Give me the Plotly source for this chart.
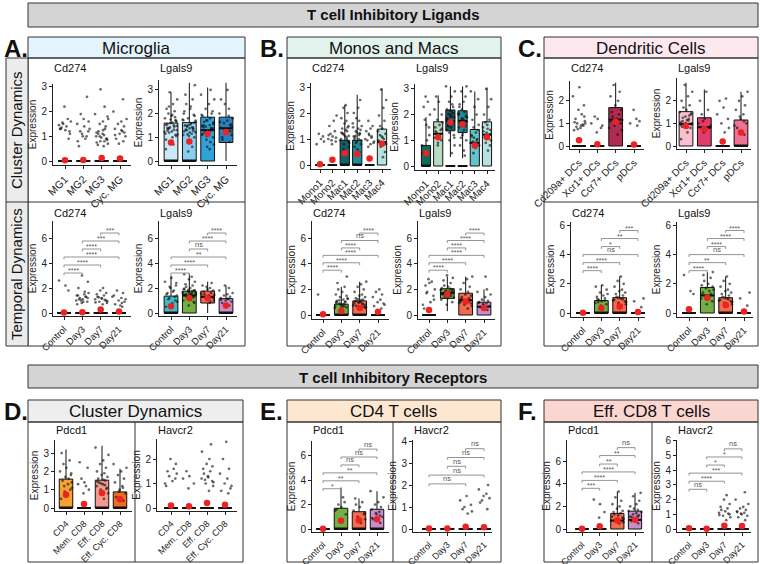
import plotly.graph_objects as go

W, H = 760, 564
FONT = "Liberation Sans, Arial, Helvetica, sans-serif"

# ---------------- categories ----------------
MG_CATS = ["MG1", "MG2", "MG3", "Cyc. MG"]
TIME_CATS = ["Control", "Day3", "Day7", "Day21"]
MM_CATS = ["Mono1", "Mono2", "Mac1", "Mac2", "Mac3", "Mac4"]
DC_CATS = ["Cd209a+ DCs", "Xcr1+ DCs", "Ccr7+ DCs", "pDCs"]
T_CATS = ["CD4", "Mem. CD8", "Eff. CD8", "Eff. Cyc. CD8"]

MG_COLORS = ["#cbe8f7", "#88cff0", "#31a1da", "#2a80c0"]
TIME_COLORS = ["#3dbec7", "#72b043", "#f26b4c", "#c98dc9"]
MM_COLORS = ["#0f6b5b", "#b5dcc2", "#14606a", "#1b8d97", "#63c5cb", "#b6e2e0"]
DC_COLORS = ["#f7c1d1", "#e23c6c", "#ad2c50", "#ef7194"]
T_COLORS = ["#f5a233", "#f7c6a0", "#f29a90", "#ef6b22"]

TIME_PAIRS = [(0, 1), (0, 2), (0, 3), (1, 2), (1, 3), (2, 3)]
TIME_PAIRS_5 = [(0, 2), (0, 3), (1, 2), (1, 3), (2, 3)]

# ---------------- A: Microglia ----------------
A_cd274_clu_q1 = [0, 0, 0, 0]
A_cd274_clu_med = [0, 0, 0, 0]
A_cd274_clu_q3 = [0, 0, 0, 0]
A_cd274_clu_lo = [0, 0, 0, 0]
A_cd274_clu_hi = [0, 0, 0, 0]
A_cd274_clu_mean = [0.03, 0.04, 0.12, 0.10]
A_cd274_clu_pts = [
    [1.3, 1.4, 1.2, 1.5, 1.6, 1.35, 1.7, 2.2, 1.1, 1.45, 1.25, 1.55, 0.9, 1.3],
    [1.0, 1.2, 1.5, 1.7, 1.9, 2.6, 0.6, 0.9, 1.3, 1.1, 1.6, 0.8, 1.4, 1.2, 1.0],
    [0.6, 0.7, 0.8, 0.9, 1.0, 1.1, 1.2, 1.3, 0.65, 0.85, 0.95, 1.05, 1.15, 1.4, 1.5, 1.6,
     1.7, 1.9, 2.2, 2.9, 0.75, 1.25, 0.9, 1.0, 1.8, 1.1, 0.8],
    [0.8, 0.9, 1.0, 1.1, 1.2, 1.3, 1.4, 1.5, 1.6, 1.7, 2.0, 2.5, 0.7, 1.05, 1.25, 1.15],
]

A_lgals9_clu_q1 = [0, 0, 0, 0.78]
A_lgals9_clu_med = [0, 0, 1.30, 1.38]
A_lgals9_clu_q3 = [1.60, 1.62, 1.85, 1.85]
A_lgals9_clu_lo = [0, 0, 0, 0]
A_lgals9_clu_hi = [2.9, 3.3, 3.1, 3.3]
A_lgals9_clu_mean = [0.78, 0.82, 1.15, 1.22]
A_lgals9_clu_pts = [
    [0.9, 1.0, 1.1, 1.2, 1.3, 1.4, 1.5, 1.6, 1.7, 1.8, 1.9, 2.0, 2.1, 2.2, 2.4, 2.6, 2.9, 1.05,
     1.15, 1.25, 1.35, 1.45, 1.55, 1.65, 1.75, 0.7, 0.5, 1.85, 2.3, 1.95, 1.12, 1.22, 1.32,
     1.42, 1.52, 1.62, 1.72, 1.38, 1.48, 1.28],
    [0.8, 1.0, 1.1, 1.2, 1.3, 1.4, 1.5, 1.6, 1.7, 1.8, 1.9, 2.0, 2.2, 2.4, 2.6, 2.8, 3.2, 1.05,
     1.15, 1.25, 1.35, 1.45, 1.55, 1.65, 1.75, 0.6, 0.4, 2.1, 2.3, 1.95, 1.12, 1.22, 1.32,
     1.42, 1.52, 1.62, 1.72, 1.38, 1.48, 1.28],
    [0.5, 0.7, 0.9, 1.0, 1.1, 1.2, 1.3, 1.4, 1.5, 1.6, 1.7, 1.8, 1.9, 2.0, 2.2, 2.4, 2.6, 2.8,
     3.0, 1.05, 1.15, 1.25, 1.35, 1.45, 1.55, 1.65, 0.8, 0.6, 2.1, 1.95, 1.12, 1.22, 1.32,
     1.42, 1.52, 1.62, 1.72, 1.38, 1.48, 1.28],
    [0.8, 1.0, 1.1, 1.2, 1.3, 1.4, 1.5, 1.6, 1.7, 1.8, 2.0, 2.2, 2.4, 2.6, 3.0, 1.25, 1.35,
     1.45, 0.9, 1.9, 1.15, 1.55, 1.65],
]

A_cd274_time_q1 = [0, 0, 0, 0]
A_cd274_time_med = [0, 0, 0, 0]
A_cd274_time_q3 = [0, 0, 0, 0]
A_cd274_time_lo = [0, 0, 0, 0]
A_cd274_time_hi = [0, 0, 0, 0]
A_cd274_time_mean = [0.05, 0.06, 0.28, 0.12]
A_cd274_time_pts = [
    [2.6, 2.2, 1.8],
    [0.8, 0.9, 1.0, 1.1, 1.2, 1.3, 1.4, 1.5, 1.6, 1.0, 1.2, 1.4, 0.9, 1.1, 1.3, 2.0, 2.5, 3.0, 1.7, 0.7],
    [0.7, 0.8, 0.9, 1.0, 1.1, 1.2, 1.3, 1.4, 1.5, 1.6, 1.8, 2.0, 0.85, 1.05, 1.25, 1.15, 0.95],
    [0.5, 0.7, 0.9, 1.0, 1.2, 1.4, 1.6, 1.8, 0.6, 1.1, 1.3, 0.8],
]
A_cd274_time_sig_y = [3.2, 3.84, 4.48, 5.12, 5.76, 6.4]
A_cd274_time_sig = ["****", "****", "****", "****", "***", "***"]

A_lgals9_time_q1 = [0, 0, 0.8, 0]
A_lgals9_time_med = [0, 1.4, 1.3, 0]
A_lgals9_time_q3 = [1.35, 1.75, 1.75, 1.15]
A_lgals9_time_lo = [0, 0, 0, 0]
A_lgals9_time_hi = [3.0, 3.2, 2.5, 2.2]
A_lgals9_time_mean = [0.55, 1.2, 1.18, 0.6]
A_lgals9_time_pts = [
    [0.5, 0.8, 1.0, 1.2, 1.4, 1.6, 1.8, 2.0, 2.2, 2.5, 2.8, 1.1, 1.3, 1.5, 1.7, 0.9, 2.1, 2.4],
    [0.6, 0.8, 1.0, 1.1, 1.2, 1.3, 1.4, 1.5, 1.6, 1.7, 1.8, 1.9, 2.0, 2.1, 2.2, 2.3, 2.5, 2.7,
     2.9, 3.1, 1.25, 1.35, 1.45, 1.55, 1.65, 1.75, 1.85, 1.95, 1.05, 0.9, 1.32, 1.42, 1.52,
     1.62, 1.72, 1.82, 1.48, 1.58],
    [0.8, 1.0, 1.1, 1.2, 1.3, 1.4, 1.5, 1.6, 1.7, 1.8, 1.9, 2.0, 2.2, 2.4, 1.25, 1.35, 1.45,
     1.55, 0.9, 2.1],
    [0.6, 0.8, 0.9, 1.0, 1.1, 1.2, 1.3, 1.4, 1.5, 1.6, 1.8, 2.0, 2.2, 1.05, 1.15],
]
A_lgals9_time_sig_y = [3.2, 3.84, 4.48, 5.12, 5.76, 6.4]
A_lgals9_time_sig = ["****", "****", "**", "ns", "****", "****"]

# ---------------- B: Monos and Macs ----------------
B_cd274_clu_q1 = [0, 0, 0, 0, 0, 0]
B_cd274_clu_med = [0, 0, 0, 0, 0, 0.88]
B_cd274_clu_q3 = [0, 0, 0.95, 0.95, 0, 1.38]
B_cd274_clu_lo = [0, 0, 0, 0, 0, 0]
B_cd274_clu_hi = [0, 0, 2.3, 2.7, 0, 2.95]
B_cd274_clu_mean = [0.03, 0.20, 0.45, 0.42, 0.25, 0.82]
B_cd274_clu_pts = [
    [0.8, 1.0, 1.1, 1.2, 0.9],
    [0.8, 0.9, 1.0, 1.1, 1.2, 1.3, 1.5, 1.7, 1.9, 0.95, 1.05, 1.15],
    [0.5, 0.7, 0.8, 0.9, 1.0, 1.1, 1.2, 1.3, 1.4, 1.5, 1.6, 1.7, 1.8, 2.0, 2.2, 2.3, 0.85,
     0.95, 1.05, 1.15, 1.25, 1.35, 1.45, 0.6, 1.12, 1.22, 0.98],
    [0.5, 0.7, 0.8, 0.9, 1.0, 1.1, 1.2, 1.3, 1.4, 1.5, 1.6, 1.7, 1.8, 2.0, 2.2, 2.5, 0.85,
     0.95, 1.05, 1.15, 1.25, 1.35, 1.45, 0.6, 1.12, 1.22, 0.98],
    [0.7, 0.8, 0.9, 1.0, 1.1, 1.2, 1.3, 1.4, 1.5, 1.7, 0.85, 0.95, 1.05, 1.15],
    [0.3, 0.5, 0.7, 0.8, 0.9, 1.0, 1.1, 1.2, 1.3, 1.4, 1.5, 1.7, 1.9, 2.2, 2.5, 2.9, 0.85,
     0.95, 1.05, 1.15],
]

B_lgals9_clu_q1 = [0, 0, 1.37, 1.30, 0, 0]
B_lgals9_clu_med = [0, 1.25, 1.75, 1.75, 0.90, 1.22]
B_lgals9_clu_q3 = [0.80, 1.72, 2.18, 2.15, 1.42, 1.72]
B_lgals9_clu_lo = [0, 0, 0.35, 0.30, 0, 0]
B_lgals9_clu_hi = [1.9, 2.75, 3.1, 3.1, 2.9, 3.05]
B_lgals9_clu_mean = [0.50, 1.12, 1.70, 1.62, 0.80, 1.12]
B_lgals9_clu_zero = [False, False, True, True, False, False]
B_lgals9_clu_pts = [
    [0.5, 1.0, 1.5, 1.8, 2.0, 2.3, 2.5, 2.7, 1.2, 0.8, 1.6],
    [0.8, 1.0, 1.1, 1.2, 1.3, 1.4, 1.5, 1.6, 1.7, 1.8, 2.0, 2.2, 2.5, 2.7, 1.25, 1.35, 1.45, 0.9],
    [0.5, 0.8, 1.0, 1.2, 1.4, 1.5, 1.6, 1.7, 1.8, 1.9, 2.0, 2.1, 2.2, 2.3, 2.5, 2.7, 2.9, 3.1,
     1.65, 1.75, 1.85, 1.95, 2.05, 1.3, 1.1, 1.55, 2.4, 2.15, 1.72, 1.82, 1.92, 2.02],
    [0.4, 0.8, 1.0, 1.2, 1.4, 1.5, 1.6, 1.7, 1.8, 1.9, 2.0, 2.1, 2.2, 2.3, 2.5, 2.7, 2.9, 3.1,
     1.65, 1.75, 1.85, 1.95, 2.05, 1.3, 1.1, 1.55, 2.4, 0.6, 1.72, 1.82, 1.92, 2.02],
    [0.5, 0.7, 0.8, 0.9, 1.0, 1.1, 1.2, 1.3, 1.4, 1.5, 1.6, 1.8, 2.0, 2.3, 2.6, 2.9, 0.85,
     0.95, 1.05, 1.15],
    [0.6, 0.8, 0.9, 1.0, 1.1, 1.2, 1.3, 1.4, 1.5, 1.6, 1.7, 1.8, 2.0, 2.3, 2.6, 3.0, 1.25,
     1.35, 1.45, 1.15],
]

B_cd274_time_q1 = [0, 0, 0, 0]
B_cd274_time_med = [0, 0, 0, 0]
B_cd274_time_q3 = [0, 0.85, 1.10, 0]
B_cd274_time_lo = [0, 0, 0, 0]
B_cd274_time_hi = [0, 2.2, 2.6, 0]
B_cd274_time_mean = [0.05, 0.32, 0.55, 0.25]
B_cd274_time_pts = [
    [1.6],
    [0.5, 0.6, 0.7, 0.8, 0.9, 1.0, 1.1, 1.2, 1.3, 1.4, 1.5, 1.6, 1.8, 2.0, 2.2, 2.5, 3.0, 0.75,
     0.85, 0.95, 1.05, 1.15, 0.65, 1.25, 0.55, 0.72, 0.88, 1.02],
    [0.5, 0.6, 0.7, 0.8, 0.9, 1.0, 1.1, 1.2, 1.3, 1.4, 1.5, 1.6, 1.8, 2.0, 2.2, 2.4, 2.6, 0.75,
     0.85, 0.95, 1.05, 1.15, 0.65, 1.25, 0.55, 0.72, 0.88, 1.02],
    [0.5, 0.7, 0.9, 1.0, 1.2, 1.4, 1.6, 1.8, 2.0, 0.8],
]
B_cd274_time_sig_y = [3.5, 4.08, 4.66, 5.24, 5.82, 6.4]
B_cd274_time_sig = ["****", "****", "****", "****", "ns", "****"]

B_lgals9_time_q1 = [0, 1.30, 0, 0]
B_lgals9_time_med = [0, 1.70, 1.15, 0.65]
B_lgals9_time_q3 = [0, 2.05, 1.70, 1.00]
B_lgals9_time_lo = [0, 0.3, 0, 0]
B_lgals9_time_hi = [0, 3.0, 3.0, 2.0]
B_lgals9_time_mean = [0.40, 1.62, 1.05, 0.55]
B_lgals9_time_pts = [
    [0.5, 1.0, 1.5, 1.8, 2.0, 2.3, 2.6, 2.8, 1.2, 0.8, 2.5, 1.7],
    [0.8, 1.0, 1.2, 1.3, 1.4, 1.5, 1.6, 1.7, 1.8, 1.9, 2.0, 2.1, 2.2, 2.3, 2.5, 2.7, 2.9, 3.1,
     1.55, 1.65, 1.75, 1.85, 1.45, 1.35, 1.95, 2.05, 1.62, 1.72, 1.82, 1.92, 1.52],
    [0.5, 0.7, 0.8, 0.9, 1.0, 1.1, 1.2, 1.3, 1.4, 1.5, 1.6, 1.8, 2.0, 2.2, 2.5, 2.8, 3.0, 0.95,
     1.05, 1.15, 1.25],
    [0.4, 0.6, 0.7, 0.8, 0.9, 1.0, 1.1, 1.2, 1.4, 1.6, 1.8, 2.0, 0.85, 0.95, 3.0],
]
B_lgals9_time_sig_y = [3.5, 4.08, 4.66, 5.24, 5.82, 6.4]
B_lgals9_time_sig = ["****", "****", "****", "****", "****", "****"]

# ---------------- C: Dendritic cells ----------------
C_cd274_clu_q1 = [0, 0, 0, 0]
C_cd274_clu_med = [0, 0, 1.17, 0]
C_cd274_clu_q3 = [0, 0, 1.70, 0]
C_cd274_clu_lo = [0, 0, 0, 0]
C_cd274_clu_hi = [0, 0, 2.8, 0]
C_cd274_clu_mean = [0.25, 0.08, 1.07, 0.07]
C_cd274_clu_pts = [
    [0.7, 0.8, 0.9, 1.0, 1.1, 1.2, 1.4, 1.6, 1.8, 2.2, 2.6, 0.85, 0.95, 1.05, 0.9, 1.0, 0.75, 1.3],
    [0.6, 0.9, 1.0, 1.2, 1.3, 0.8],
    [0.5, 0.7, 0.9, 1.0, 1.1, 1.2, 1.3, 1.4, 1.5, 1.6, 1.8, 2.0, 2.2, 2.4, 2.7, 1.05, 1.15, 0.8],
    [0.9, 1.0, 1.1, 1.6, 1.2],
]

C_lgals9_clu_q1 = [0, 0, 0, 0]
C_lgals9_clu_med = [0.98, 0.83, 0, 0]
C_lgals9_clu_q3 = [1.52, 1.25, 0, 1.15]
C_lgals9_clu_lo = [0, 0, 0, 0]
C_lgals9_clu_hi = [2.8, 2.5, 0, 2.4]
C_lgals9_clu_mean = [0.88, 0.75, 0.20, 0.60]
C_lgals9_clu_pts = [
    [0.3, 0.6, 0.8, 0.9, 1.0, 1.1, 1.2, 1.3, 1.4, 1.5, 1.6, 1.7, 1.8, 2.0, 2.2, 2.4, 2.7, 0.95,
     1.05, 1.15, 1.25, 1.35, 0.85, 1.45, 1.02, 1.12, 0.92],
    [0.6, 0.8, 1.0, 1.2, 1.4, 1.6, 2.0, 2.4, 0.9, 1.1],
    [0.6, 0.8, 1.0, 1.2, 1.4, 1.7, 2.0, 2.1],
    [0.5, 0.8, 1.0, 1.2, 1.4, 1.6, 1.8, 2.0, 2.2, 2.4, 0.9, 1.1, 1.3],
]

C_cd274_time_q1 = [0, 0, 0, 0]
C_cd274_time_med = [0, 0, 0, 0]
C_cd274_time_q3 = [0, 0.85, 1.05, 0]
C_cd274_time_lo = [0, 0, 0, 0]
C_cd274_time_hi = [0, 1.9, 2.5, 0]
C_cd274_time_mean = [0.02, 0.35, 0.45, 0.07]
C_cd274_time_pts = [
    [],
    [0.5, 0.6, 0.7, 0.8, 0.9, 1.0, 1.1, 1.2, 1.3, 1.4, 1.6, 1.8, 1.9, 0.75, 0.85, 0.95],
    [0.5, 0.6, 0.7, 0.8, 0.9, 1.0, 1.1, 1.2, 1.3, 1.4, 1.5, 1.6, 1.8, 2.0, 2.2, 2.5, 0.75,
     0.85, 0.95, 1.05],
    [0.4, 0.8, 1.0],
]
C_cd274_time_sig_y = [2.9, 3.45, 4.0, 4.55, 5.1, 5.65]
C_cd274_time_sig = ["****", "****", "ns", "*", "**", "***"]

C_lgals9_time_q1 = [0, 0, 0, 0]
C_lgals9_time_med = [0, 1.2, 0, 0]
C_lgals9_time_q3 = [0, 1.75, 1.05, 0]
C_lgals9_time_lo = [0, 0, 0, 0]
C_lgals9_time_hi = [0, 2.8, 2.5, 0]
C_lgals9_time_mean = [0.25, 1.05, 0.55, 0.10]
C_lgals9_time_pts = [
    [2.6, 1.5, 1.3],
    [0.6, 0.8, 1.0, 1.1, 1.2, 1.3, 1.4, 1.5, 1.6, 1.7, 1.8, 1.9, 2.0, 2.2, 2.4, 2.6, 2.8, 1.05,
     1.15, 1.25],
    [0.5, 0.6, 0.7, 0.8, 0.9, 1.0, 1.1, 1.2, 1.3, 1.4, 1.5, 1.6, 1.8, 2.0, 2.2, 2.5, 0.75,
     0.85, 0.95, 1.05],
    [0.5, 1.0, 1.4],
]
C_lgals9_time_sig_y = [2.9, 3.45, 4.0, 4.55, 5.1, 5.65]
C_lgals9_time_sig = ["****", "**", "ns", "****", "****", "****"]

# ---------------- D: T cell cluster dynamics ----------------
D_pdcd1_q1 = [0, 0, 0, 0]
D_pdcd1_med = [0, 0, 0, 0]
D_pdcd1_q3 = [1.58, 0, 1.52, 0.88]
D_pdcd1_lo = [0, 0, 0, 0]
D_pdcd1_hi = [3.2, 0, 3.4, 2.15]
D_pdcd1_mean = [0.72, 0.22, 0.82, 0.48]
D_pdcd1_pts = [
    [0.5, 0.8, 1.0, 1.2, 1.4, 1.5, 1.6, 1.7, 1.8, 2.0, 2.2, 2.4, 2.6, 3.0, 1.3, 1.1, 0.9, 1.9],
    [0.8, 1.0, 1.3, 1.4, 1.6, 2.2, 2.5, 1.2],
    [0.5, 0.8, 1.0, 1.1, 1.2, 1.3, 1.4, 1.5, 1.6, 1.7, 1.8, 1.9, 2.0, 2.2, 2.4, 2.6, 2.9, 3.3,
     1.25, 1.35, 1.45, 1.55, 1.05, 0.9],
    [0.4, 0.6, 0.8, 1.0, 1.2, 1.4, 1.6, 1.8, 2.0, 2.2, 2.4, 1.1, 0.9],
]

D_havcr2_q1 = [0, 0, 0, 0]
D_havcr2_med = [0, 0, 0, 0]
D_havcr2_q3 = [0, 0, 0, 0]
D_havcr2_lo = [0, 0, 0, 0]
D_havcr2_hi = [0, 0, 0, 0]
D_havcr2_mean = [0.10, 0.07, 0.20, 0.13]
D_havcr2_pts = [
    [0.9, 1.1, 1.2, 1.3, 1.4, 1.5, 1.6, 2.0, 1.8, 1.0],
    [0.8, 1.0, 1.2, 1.3, 1.5],
    [0.7, 0.9, 1.0, 1.1, 1.2, 1.3, 1.4, 1.5, 1.6, 1.7, 1.8, 2.0, 2.3, 2.6, 1.15, 1.25, 1.05],
    [0.6, 0.7, 0.8, 1.0, 1.2, 1.4, 1.6, 2.0, 2.7, 0.9],
]

# ---------------- E: CD4 T cells ----------------
E_pdcd1_q1 = [0, 0, 0, 0]
E_pdcd1_med = [0, 0, 0, 0]
E_pdcd1_q3 = [0, 1.70, 1.42, 1.62]
E_pdcd1_lo = [0, 0, 0, 0]
E_pdcd1_hi = [0, 3.4, 2.5, 3.1]
E_pdcd1_mean = [0.03, 0.68, 0.72, 0.80]
E_pdcd1_pts = [
    [],
    [0.8, 1.2, 1.5, 1.8, 2.0, 2.2, 1.6, 2.6],
    [0.5, 0.8, 1.0, 1.2, 1.5, 1.8, 2.0, 2.2, 2.5, 1.3, 0.7],
    [0.5, 0.8, 1.0, 1.2, 1.4, 1.6, 1.8, 2.0, 2.2, 2.6, 3.1, 1.1, 1.3, 0.9],
]
E_pdcd1_sig_y = [3.3, 3.95, 4.6, 5.25, 5.9, 6.55]
E_pdcd1_sig = ["*", "**", "**", "ns", "ns", "ns"]

E_havcr2_q1 = [0, 0, 0, 0]
E_havcr2_med = [0, 0, 0, 0]
E_havcr2_q3 = [0, 0, 0, 0]
E_havcr2_lo = [0, 0, 0, 0]
E_havcr2_hi = [0, 0, 0, 0]
E_havcr2_mean = [0.02, 0.02, 0.10, 0.08]
E_havcr2_pts = [
    [],
    [],
    [0.7, 0.8, 1.0, 1.1, 1.3, 1.5, 0.9],
    [0.9, 1.2, 1.4, 1.5, 1.6, 1.8, 2.0, 1.3],
]
E_havcr2_sig_y = [2.05, 2.45, 2.85, 3.25, 3.65]
E_havcr2_sig = ["ns", "ns", "ns", "ns", "ns"]

# ---------------- F: Eff. CD8 T cells ----------------
F_pdcd1_q1 = [0, 0, 0, 0]
F_pdcd1_med = [0, 0, 0.75, 0.80]
F_pdcd1_q3 = [0, 0, 1.38, 1.58]
F_pdcd1_lo = [0, 0, 0, 0]
F_pdcd1_hi = [0, 0, 3.3, 3.2]
F_pdcd1_mean = [0.03, 0.25, 0.75, 0.82]
F_pdcd1_pts = [
    [],
    [1.0, 1.5, 2.6, 2.2],
    [0.5, 0.6, 0.8, 1.0, 1.1, 1.2, 1.3, 1.4, 1.5, 1.6, 1.8, 2.0, 2.2, 2.5, 2.8, 3.3, 0.9, 0.7],
    [0.5, 0.7, 0.8, 0.9, 1.0, 1.1, 1.2, 1.3, 1.4, 1.5, 1.6, 1.7, 1.8, 2.0, 2.2, 2.5, 2.9, 3.2,
     1.05, 1.15],
]
F_pdcd1_sig_y = [3.6, 4.3, 5.05, 5.75, 6.5, 7.2]
F_pdcd1_sig = ["***", "****", "****", "**", "**", "ns"]

F_havcr2_q1 = [0, 0, 0, 0]
F_havcr2_med = [0, 0, 0, 0]
F_havcr2_q3 = [0, 0, 0, 0]
F_havcr2_lo = [0, 0, 0, 0]
F_havcr2_hi = [0, 0, 0, 0]
F_havcr2_mean = [0.05, 0.02, 0.22, 0.20]
F_havcr2_pts = [
    [],
    [],
    [0.6, 0.8, 0.9, 1.0, 1.1, 1.2, 1.3, 1.4, 1.5, 1.7, 2.0, 2.3, 0.95, 1.05],
    [0.6, 0.8, 0.9, 1.0, 1.1, 1.2, 1.3, 1.4, 1.5, 1.7, 2.0, 2.5, 1.05, 1.15],
]
F_havcr2_sig_y = [2.7, 3.25, 3.8, 4.35, 4.9, 5.45]
F_havcr2_sig = ["ns", "****", "***", "*", "*", "ns"]

# ---------------- drawing helpers ----------------
JIT = [-0.27, 0.08, 0.24, -0.1, 0.32, -0.19, 0.15, -0.03, 0.27, -0.33, 0.02, -0.14, 0.2,
       -0.24, 0.11, 0.34, -0.07, 0.29, -0.3, 0.05, -0.17, 0.18, -0.21, 0.3, -0.02, 0.13,
       -0.28, 0.22, -0.11, 0.07, 0.36, -0.36, 0.16, -0.06]
BOXW = 0.75

fig = go.Figure()
layout_upd = {}
annotations = []
shapes = []


def px(xp):
    return xp / W


def py(yp):
    return 1 - yp / H


def add_plot(n, geom, cats, colors, q1, med, q3, lo, hi, mean, pts, yticks, title, title_y,
             pairs=None, sig_y=None, sig=None, zero_marks=None, xfont=9.5):
    left, right, top, bottom, c0, cN, y0, ypu = geom
    xa = "x" if n == 1 else f"x{n}"
    ya = "y" if n == 1 else f"y{n}"
    k = len(cats)
    s = (cN - c0) / (k - 1)
    xr = [(left - c0) / s, (right - c0) / s]
    yr = [(y0 - bottom) / ypu, (y0 - top) / ypu]

    for i in range(k):
        fig.add_trace(go.Box(
            x=[i], q1=[q1[i]], median=[med[i]], q3=[q3[i]],
            lowerfence=[lo[i]], upperfence=[hi[i]],
            width=BOXW, whiskerwidth=0, boxpoints=False,
            fillcolor=colors[i], line=dict(color="#111111", width=1),
            xaxis=xa, yaxis=ya, showlegend=False, hoverinfo="skip"))
    # jittered cells
    jx, jy = [], []
    for i in range(k):
        for j, v in enumerate(pts[i]):
            jx.append(i + JIT[(j + 7 * i) % len(JIT)])
            jy.append(v)
    fig.add_trace(go.Scatter(x=jx, y=jy, mode="markers", xaxis=xa, yaxis=ya,
                             marker=dict(size=2.7, color="rgba(15,15,15,0.62)"),
                             showlegend=False, hoverinfo="skip"))
    # thick medians
    mx, my = [], []
    for i in range(k):
        mx += [i - BOXW / 2, i + BOXW / 2, None]
        my += [med[i], med[i], None]
    fig.add_trace(go.Scatter(x=mx, y=my, mode="lines", xaxis=xa, yaxis=ya,
                             line=dict(color="#111111", width=2),
                             showlegend=False, hoverinfo="skip"))
    if zero_marks:
        zx = [i for i in range(k) if zero_marks[i]]
        fig.add_trace(go.Scatter(x=zx, y=[0] * len(zx), mode="markers", xaxis=xa, yaxis=ya,
                                 marker=dict(symbol="line-ew", size=7,
                                             line=dict(color="#111111", width=2)),
                                 showlegend=False, hoverinfo="skip"))
    # means
    fig.add_trace(go.Scatter(x=list(range(k)), y=mean, mode="markers", xaxis=xa, yaxis=ya,
                             marker=dict(size=6.5, color="#ee2222"),
                             showlegend=False, hoverinfo="skip"))
    # significance brackets
    if pairs:
        tip = 0.025 * (yr[1] - yr[0])
        bx, by = [], []
        for (a, b), lev, lab in zip(pairs, sig_y, sig):
            bx += [a, a, b, b, None]
            by += [lev - tip, lev, lev, lev - tip, None]
            annotations.append(dict(
                x=(a + b) / 2, y=lev, xref=xa, yref=ya, text=lab, showarrow=False,
                yanchor="bottom", yshift=-3 if "*" in lab else -1.5,
                font=dict(size=7 if "*" in lab else 7.5, color="#555555", family=FONT)))
        fig.add_trace(go.Scatter(x=bx, y=by, mode="lines", xaxis=xa, yaxis=ya,
                                 line=dict(color="#888888", width=0.9),
                                 showlegend=False, hoverinfo="skip"))

    key_x = "xaxis" if n == 1 else f"xaxis{n}"
    key_y = "yaxis" if n == 1 else f"yaxis{n}"
    layout_upd[key_x] = dict(
        domain=[px(left), px(right)], range=xr, anchor=ya, automargin=False,
        tickmode="array", tickvals=list(range(k)), ticktext=cats, tickangle=-45,
        showline=True, linecolor="#222222", linewidth=1, ticks="outside", ticklen=3,
        tickcolor="#222222", tickfont=dict(size=xfont, color="#222222", family=FONT),
        showgrid=False, zeroline=False, fixedrange=True)
    layout_upd[key_y] = dict(
        domain=[py(bottom), py(top)], range=yr, anchor=xa, automargin=False,
        tickmode="array", tickvals=yticks,
        showline=True, linecolor="#222222", linewidth=1, ticks="outside", ticklen=3,
        tickcolor="#222222", tickfont=dict(size=10, color="#222222", family=FONT),
        title=dict(text="Expression", font=dict(size=10, color="#222222", family=FONT),
                   standoff=2),
        showgrid=False, zeroline=False, fixedrange=True)
    annotations.append(dict(x=px(left) - 0.001, y=py(title_y), xref="paper", yref="paper",
                            text=title, showarrow=False, xanchor="left", yanchor="middle",
                            font=dict(size=11, color="#111111", family=FONT)))


# geometry: left, right, top, bottom, first-cat px, last-cat px, y0 px, px per unit
add_plot(1, (53, 131, 84, 165, 65, 120, 161, 24.7), MG_CATS, MG_COLORS,
         A_cd274_clu_q1, A_cd274_clu_med, A_cd274_clu_q3, A_cd274_clu_lo, A_cd274_clu_hi,
         A_cd274_clu_mean, A_cd274_clu_pts, [0, 1, 2, 3], "Cd274", 68, xfont=10.5)
add_plot(2, (159, 237, 80, 165, 171, 226, 161, 23.7), MG_CATS, MG_COLORS,
         A_lgals9_clu_q1, A_lgals9_clu_med, A_lgals9_clu_q3, A_lgals9_clu_lo, A_lgals9_clu_hi,
         A_lgals9_clu_mean, A_lgals9_clu_pts, [0, 1, 2, 3], "Lgals9", 68, xfont=10.5)
add_plot(3, (53, 131, 221, 316, 64, 119, 313, 12.5), TIME_CATS, TIME_COLORS,
         A_cd274_time_q1, A_cd274_time_med, A_cd274_time_q3, A_cd274_time_lo, A_cd274_time_hi,
         A_cd274_time_mean, A_cd274_time_pts, [0, 2, 4, 6], "Cd274", 213,
         TIME_PAIRS, A_cd274_time_sig_y, A_cd274_time_sig)
add_plot(4, (159, 237, 221, 316, 171, 226, 313, 12.5), TIME_CATS, TIME_COLORS,
         A_lgals9_time_q1, A_lgals9_time_med, A_lgals9_time_q3, A_lgals9_time_lo,
         A_lgals9_time_hi, A_lgals9_time_mean, A_lgals9_time_pts, [0, 2, 4, 6], "Lgals9", 213,
         TIME_PAIRS, A_lgals9_time_sig_y, A_lgals9_time_sig)

add_plot(5, (311, 391, 83, 169, 320, 382, 165, 26.0), MM_CATS, MM_COLORS,
         B_cd274_clu_q1, B_cd274_clu_med, B_cd274_clu_q3, B_cd274_clu_lo, B_cd274_clu_hi,
         B_cd274_clu_mean, B_cd274_clu_pts, [0, 1, 2, 3], "Cd274", 68, xfont=10)
add_plot(6, (415, 495, 84, 170, 426, 487, 166, 25.7), MM_CATS, MM_COLORS,
         B_lgals9_clu_q1, B_lgals9_clu_med, B_lgals9_clu_q3, B_lgals9_clu_lo, B_lgals9_clu_hi,
         B_lgals9_clu_mean, B_lgals9_clu_pts, [0, 1, 2, 3], "Lgals9", 68,
         zero_marks=B_lgals9_clu_zero, xfont=10)
add_plot(7, (312, 389, 221, 319, 323, 378, 315, 12.8), TIME_CATS, TIME_COLORS,
         B_cd274_time_q1, B_cd274_time_med, B_cd274_time_q3, B_cd274_time_lo, B_cd274_time_hi,
         B_cd274_time_mean, B_cd274_time_pts, [0, 2, 4, 6], "Cd274", 213,
         TIME_PAIRS, B_cd274_time_sig_y, B_cd274_time_sig)
add_plot(8, (418, 495, 221, 319, 429, 484, 315, 12.8), TIME_CATS, TIME_COLORS,
         B_lgals9_time_q1, B_lgals9_time_med, B_lgals9_time_q3, B_lgals9_time_lo,
         B_lgals9_time_hi, B_lgals9_time_mean, B_lgals9_time_pts, [0, 2, 4, 6], "Lgals9", 213,
         TIME_PAIRS, B_lgals9_time_sig_y, B_lgals9_time_sig)

add_plot(9, (570, 644, 81, 149, 579, 634, 146, 22.6), DC_CATS, DC_COLORS,
         C_cd274_clu_q1, C_cd274_clu_med, C_cd274_clu_q3, C_cd274_clu_lo, C_cd274_clu_hi,
         C_cd274_clu_mean, C_cd274_clu_pts, [0, 1, 2], "Cd274", 68, xfont=10)
add_plot(10, (677, 751, 78, 149, 686, 741, 146, 22.6), DC_CATS, DC_COLORS,
         C_lgals9_clu_q1, C_lgals9_clu_med, C_lgals9_clu_q3, C_lgals9_clu_lo, C_lgals9_clu_hi,
         C_lgals9_clu_mean, C_lgals9_clu_pts, [0, 1, 2], "Lgals9", 68, xfont=10)
add_plot(11, (571, 645, 222, 317, 583, 638, 313, 14.6), TIME_CATS, TIME_COLORS,
         C_cd274_time_q1, C_cd274_time_med, C_cd274_time_q3, C_cd274_time_lo, C_cd274_time_hi,
         C_cd274_time_mean, C_cd274_time_pts, [0, 2, 4, 6], "Cd274", 213,
         TIME_PAIRS, C_cd274_time_sig_y, C_cd274_time_sig)
add_plot(12, (677, 753, 222, 317, 689, 744, 313, 14.6), TIME_CATS, TIME_COLORS,
         C_lgals9_time_q1, C_lgals9_time_med, C_lgals9_time_q3, C_lgals9_time_lo,
         C_lgals9_time_hi, C_lgals9_time_mean, C_lgals9_time_pts, [0, 2, 4, 6], "Lgals9", 213,
         TIME_PAIRS, C_lgals9_time_sig_y, C_lgals9_time_sig)

add_plot(13, (55, 132, 440, 511, 66, 120, 508, 18.3), T_CATS, T_COLORS,
         D_pdcd1_q1, D_pdcd1_med, D_pdcd1_q3, D_pdcd1_lo, D_pdcd1_hi,
         D_pdcd1_mean, D_pdcd1_pts, [0, 1, 2, 3], "Pdcd1", 430, xfont=9)
add_plot(14, (157, 237, 439, 511, 171, 225, 508, 24.5), T_CATS, T_COLORS,
         D_havcr2_q1, D_havcr2_med, D_havcr2_q3, D_havcr2_lo, D_havcr2_hi,
         D_havcr2_mean, D_havcr2_pts, [0, 1, 2], "Havcr2", 430, xfont=9)
add_plot(15, (312, 389, 441, 532, 323, 377, 529, 12.2), TIME_CATS, TIME_COLORS,
         E_pdcd1_q1, E_pdcd1_med, E_pdcd1_q3, E_pdcd1_lo, E_pdcd1_hi,
         E_pdcd1_mean, E_pdcd1_pts, [0, 2, 4, 6], "Pdcd1", 430,
         TIME_PAIRS, E_pdcd1_sig_y, E_pdcd1_sig, xfont=9)
add_plot(16, (413, 492, 440, 532, 429, 484, 529, 22.0), TIME_CATS, TIME_COLORS,
         E_havcr2_q1, E_havcr2_med, E_havcr2_q3, E_havcr2_lo, E_havcr2_hi,
         E_havcr2_mean, E_havcr2_pts, [0, 1, 2, 3, 4], "Havcr2", 430,
         TIME_PAIRS_5, E_havcr2_sig_y, E_havcr2_sig, xfont=9)
add_plot(17, (567, 644, 440, 532, 582, 635, 529, 11.3), TIME_CATS, TIME_COLORS,
         F_pdcd1_q1, F_pdcd1_med, F_pdcd1_q3, F_pdcd1_lo, F_pdcd1_hi,
         F_pdcd1_mean, F_pdcd1_pts, [0, 2, 4, 6], "Pdcd1", 430,
         TIME_PAIRS, F_pdcd1_sig_y, F_pdcd1_sig, xfont=9)
add_plot(18, (677, 751, 440, 532, 689, 742, 529, 14.7), TIME_CATS, TIME_COLORS,
         F_havcr2_q1, F_havcr2_med, F_havcr2_q3, F_havcr2_lo, F_havcr2_hi,
         F_havcr2_mean, F_havcr2_pts, [0, 1, 2, 3, 4, 5, 6], "Havcr2", 430,
         TIME_PAIRS, F_havcr2_sig_y, F_havcr2_sig, xfont=9)


# ---------------- frames, headers and strips ----------------
def rect(x0, y0, x1, y1, fill=None, lw=1, color="#333333"):
    shapes.append(dict(type="rect", xref="paper", yref="paper", layer="below",
                       x0=px(x0), x1=px(x1), y0=py(y1), y1=py(y0),
                       fillcolor=fill if fill else "rgba(0,0,0,0)",
                       line=dict(color=color, width=lw)))


def hline(x0, x1, y):
    shapes.append(dict(type="line", xref="paper", yref="paper", x0=px(x0), x1=px(x1),
                       y0=py(y), y1=py(y), line=dict(color="#333333", width=1)))


def vline(x, y0, y1):
    shapes.append(dict(type="line", xref="paper", yref="paper", x0=px(x), x1=px(x),
                       y0=py(y0), y1=py(y1), line=dict(color="#333333", width=1)))


def text(x, y, t, size, bold=False, angle=0, xanchor="center"):
    annotations.append(dict(x=px(x), y=py(y), xref="paper", yref="paper", showarrow=False,
                            text=f"<b>{t}</b>" if bold else t, textangle=angle,
                            xanchor=xanchor, yanchor="middle",
                            font=dict(size=size, color="#111111", family=FONT)))


# section headers
rect(28, 3, 758, 27, "#d4d4d4")
text(393, 15, "T cell Inhibitory Ligands", 15, bold=True)
rect(28, 365, 758, 388, "#d4d4d4")
text(393, 377, "T cell Inhibitory Receptors", 15, bold=True)

# row 1 panels
PANELS1 = [(28, 245, "#e4f4fc", "Microglia", "A.", 2),
           (287, 501, "#e2f3ec", "Monos and Macs", "B.", 258),
           (544, 758, "#fde8f0", "Dendritic Cells", "C.", 516)]
for x0, x1, fill, ttl, lab, lx in PANELS1:
    rect(x0, 37, x1, 58, fill)
    text((x0 + x1) / 2, 48, ttl, 17)
    rect(x0, 58, x1, 346)
    hline(x0, x1, 202)
    text(lx, 48, lab, 24, bold=True, xanchor="left")

# strip on the left of row 1
rect(6, 58, 28, 346, "#ececec")
hline(6, 28, 202)
text(16, 130, "Cluster Dynamics", 15, angle=-90)
text(16, 274, "Temporal Dynamics", 15, angle=-90)

# row 2 panels
PANELS2 = [(28, 243, 135, "#eeeeee", "Cluster Dynamics", "D.", 2),
           (287, 501, 393, "#fde7d0", "CD4 T cells", "E.", 258),
           (544, 758, 652, "#fbd5cf", "Eff. CD8 T cells", "F.", 516)]
for x0, x1, xd, fill, ttl, lab, lx in PANELS2:
    rect(x0, 400, x1, 422, fill)
    text((x0 + x1) / 2, 411, ttl, 17)
    rect(x0, 422, x1, 562)
    vline(xd, 422, 562)
    text(lx, 411, lab, 24, bold=True, xanchor="left")

fig.update_layout(
    template="none",
    width=W, height=H, margin=dict(l=0, r=0, t=0, b=0, pad=0, autoexpand=False),
    paper_bgcolor="white", plot_bgcolor="white",
    font=dict(family=FONT, color="#111111"),
    showlegend=False, boxmode="overlay",
    annotations=annotations, shapes=shapes, **layout_upd)

fig.write_html("out.html", config={"displayModeBar": False},
               post_script="document.body.style.margin='0px';"
                           "document.body.style.overflow='hidden';")
